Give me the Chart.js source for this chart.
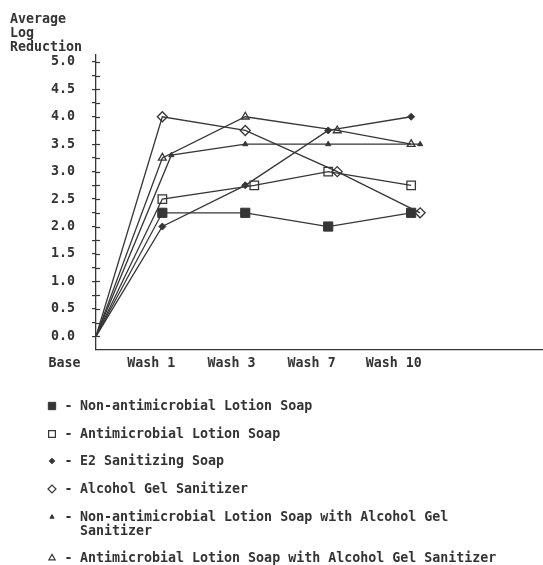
<!DOCTYPE html>
<html>
<head>
<meta charset="utf-8">
<script src="https://cdn.jsdelivr.net/npm/chart.js@4.4.1/dist/chart.umd.min.js"></script>
<style>
html,body{margin:0;padding:0;background:#fff;}
#wrap{position:relative;width:543px;height:565px;overflow:hidden;}
#c{position:absolute;left:0;top:0;}
#legend{position:absolute;left:47px;top:399px;font:bold 13.3px "DejaVu Sans Mono",monospace;color:#333;}
.item{display:flex;align-items:flex-start;line-height:14px;margin-bottom:13.7px;}
.item canvas{display:block;width:10px;height:14px;}
.dash{width:23px;text-align:center;}
.txt{max-width:430px;}
</style>
</head>
<body>
<div id="wrap">
  <canvas id="c" width="543" height="565"></canvas>
  <div id="legend"></div>
</div>
<script>
// ---- data ----
const categories = ['Base', 'Wash 1', 'Wash 3', 'Wash 7', 'Wash 10'];
const seriesNames = [
  'Non-antimicrobial Lotion Soap',
  'Antimicrobial Lotion Soap',
  'E2 Sanitizing Soap',
  'Alcohol Gel Sanitizer',
  'Non-antimicrobial Lotion Soap with Alcohol Gel Sanitizer',
  'Antimicrobial Lotion Soap with Alcohol Gel Sanitizer'
];
const nonAntimicrobialLotion   = [0, 2.25, 2.25, 2.0, 2.25];
const antimicrobialLotion      = [0, 2.5, 2.75, 3.0, 2.75];
const e2Sanitizing             = [0, 2.0, 2.75, 3.75, 4.0];
const alcoholGel               = [0, 4.0, 3.75, 3.0, 2.25];
const nonAntimicrobialWithGel  = [0, 3.3, 3.5, 3.5, 3.5];
const antimicrobialWithGel     = [0, 3.25, 4.0, 3.75, 3.5];
const yTickValues = [0,0.25,0.5,0.75,1,1.25,1.5,1.75,2,2.25,2.5,2.75,3,3.25,3.5,3.75,4,4.25,4.5,4.75,5];
const titleLines = ['Average', 'Log', 'Reduction'];

// ---- layout / style ----
const INK = '#363636';
const FONT = '"DejaVu Sans Mono", monospace';
const xSlots = [0, 0.8, 1.8, 2.8, 3.8];              // category positions on x scale
const labelSlots = [-0.38, 0.665, 1.635, 2.6, 3.59]; // where the category labels sit

const styles = [
  {pointStyle:'rect',    radius:6.5, fill:true,  dodgeRank:1},
  {pointStyle:'rect',    radius:6,   fill:false, dodgeRank:2},
  {pointStyle:'rectRot', radius:3.5, fill:true,  dodgeRank:0},
  {pointStyle:'rectRot', radius:5,   fill:false, dodgeRank:4},
  {pointStyle:'triangle',radius:3,   fill:true,  dodgeRank:5},
  {pointStyle:'triangle',radius:4.5, fill:false, dodgeRank:3}
];
const seriesValues = [nonAntimicrobialLotion, antimicrobialLotion, e2Sanitizing, alcoholGel, nonAntimicrobialWithGel, antimicrobialWithGel];

const datasets = seriesValues.map((vals, k) => {
  const s = styles[k];
  return {
    label: seriesNames[k],
    data: vals.map((v, i) => ({x: xSlots[i], y: v})),
    borderColor: INK,
    borderWidth: 1.3,
    tension: 0,
    fill: false,
    pointStyle: s.pointStyle,
    pointRadius: (ctx) => ctx.dataIndex === 0 ? 0 : s.radius,
    pointBackgroundColor: s.fill ? INK : 'rgba(0,0,0,0)',
    pointBorderColor: INK,
    pointBorderWidth: s.fill ? 1 : 1.3,
    dodgeRank: s.dodgeRank
  };
});

// shift coinciding markers sideways, like the original plot
const dodgePlugin = {
  id: 'dodge',
  afterDatasetsUpdate(chart) {
    const metas = chart.data.datasets.map((d, k) => chart.getDatasetMeta(k));
    const n = categories.length;
    for (let i = 1; i < n; i++) {
      chart.data.datasets.forEach((d, k) => {
        let count = 0;
        chart.data.datasets.forEach((o, j) => {
          if (j !== k && o.dodgeRank < d.dodgeRank &&
              Math.abs(o.data[i].y - d.data[i].y) < 0.1) count++;
        });
        if (count) metas[k].data[i].x += 9 * count;
      });
    }
  }
};

// tick marks cross the axis
const crossTicks = {
  id: 'crossTicks',
  afterDraw(chart) {
    const y = chart.scales.y, ctx = chart.ctx, left = chart.chartArea.left;
    ctx.save();
    ctx.strokeStyle = INK; ctx.lineWidth = 1.2;
    y.ticks.forEach(t => {
      const py = Math.round(y.getPixelForValue(t.value)) + 0.5;
      ctx.beginPath(); ctx.moveTo(left, py); ctx.lineTo(left + 4, py); ctx.stroke();
    });
    ctx.restore();
  }
};

const tickFont = {family: FONT, size: 13.3, weight: 'bold'};
const zeroPad = (sc) => { sc.paddingTop = 0; sc.paddingBottom = 0; sc.paddingLeft = 0; sc.paddingRight = 0; };

new Chart(document.getElementById('c'), {
  type: 'line',
  data: {datasets},
  plugins: [dodgePlugin, crossTicks],
  options: {
    responsive: false,
    animation: false,
    events: [],
    layout: {autoPadding: false, padding: {left: 10, right: 0, top: 0, bottom: 187}},
    plugins: {
      legend: {display: false},
      tooltip: {enabled: false},
      title: {
        display: true,
        text: titleLines,
        align: 'start',
        color: '#333',
        font: {family: FONT, size: 13.3, weight: 'bold', lineHeight: 14/13.3},
        padding: {top: 13, bottom: 0}
      }
    },
    scales: {
      x: {
        type: 'linear',
        min: 0,
        max: 5.39,
        afterBuildTicks: (sc) => { sc.ticks = labelSlots.map(v => ({value: v})); },
        afterFit: zeroPad,
        ticks: {
          autoSkip: false, maxRotation: 0, minRotation: 0,
          padding: 6, color: '#333', font: tickFont,
          callback: (v, i) => categories[i]
        },
        grid: {display: false, drawTicks: false},
        border: {display: true, color: INK, width: 1.3}
      },
      y: {
        type: 'linear',
        min: -0.25,
        max: 5.125,
        afterBuildTicks: (sc) => { sc.ticks = yTickValues.map(v => ({value: v})); },
        afterFit: (sc) => { zeroPad(sc); sc.width = 86; },
        ticks: {
          autoSkip: false, padding: 17, color: '#333', font: tickFont,
          callback: (v) => Math.abs(v * 2 - Math.round(v * 2)) < 1e-6 ? v.toFixed(1) : ''
        },
        grid: {display: true, drawOnChartArea: false, drawTicks: true, tickLength: 4, color: INK, lineWidth: 1.2},
        border: {display: true, color: INK, width: 1.3}
      }
    }
  }
});

// ---- legend (real text) ----
const legend = document.getElementById('legend');
seriesNames.forEach((name, k) => {
  const s = styles[k];
  const item = document.createElement('div');
  item.className = 'item';
  const cv = document.createElement('canvas');
  cv.width = 10; cv.height = 14;
  const c = cv.getContext('2d');
  c.fillStyle = s.fill ? INK : 'rgba(0,0,0,0)';
  c.strokeStyle = INK;
  c.lineWidth = s.fill ? 1 : 1.2;
  const r = s.radius * 0.8;
  if (Chart.helpers && Chart.helpers.drawPoint) {
    Chart.helpers.drawPoint(c, {pointStyle: s.pointStyle, radius: r, rotation: 0, borderWidth: c.lineWidth}, 5, 7);
  }
  const dash = document.createElement('span');
  dash.className = 'dash'; dash.textContent = '-';
  const txt = document.createElement('span');
  txt.className = 'txt'; txt.textContent = name;
  item.appendChild(cv); item.appendChild(dash); item.appendChild(txt);
  legend.appendChild(item);
});
</script>
</body>
</html>
